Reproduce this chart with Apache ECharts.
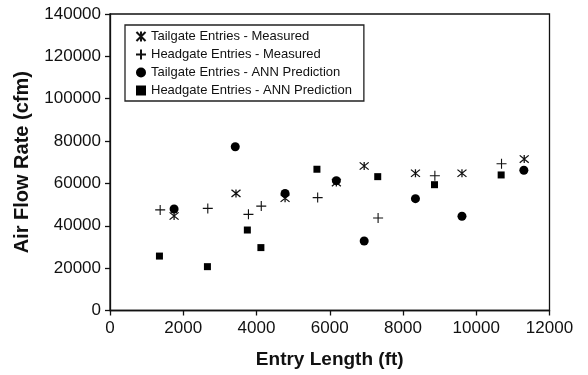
<!DOCTYPE html>
<html>
<head>
<meta charset="utf-8">
<script src="https://cdn.jsdelivr.net/npm/echarts@6/dist/echarts.min.js"></script>
<style>html,body{margin:0;padding:0;background:#fff}#c{width:588px;height:375px}</style>
</head>
<body>
<div id="c"></div>
<script>
const seriesNames = ['Tailgate Entries - Measured','Headgate Entries - Measured','Tailgate Entries - ANN Prediction','Headgate Entries - ANN Prediction'];
const xTicks = [0,2000,4000,6000,8000,10000,12000];
const yTicks = [0,20000,40000,60000,80000,100000,120000,140000];

const tailMeasX = [1750,3440,4780,6180,6940,8340,9610,11310];
const tailMeasY = [44600,55300,53000,60400,68200,64800,64800,71500];

const headMeasX = [1370,2670,3780,4130,5670,7320,8870,10690];
const headMeasY = [47500,48200,45400,49300,53300,43700,63600,69300];

const tailAnnX = [1750,3420,4780,6180,6940,8340,9610,11300];
const tailAnnY = [47900,77300,55300,61300,32800,52800,44500,66200];

const headAnnX = [1350,2660,3750,4120,5650,7310,8860,10680];
const headAnnY = [25700,20700,38000,29700,66700,63200,59400,64000];

const zip = (xs, ys) => xs.map((x, i) => [x, ys[i]]);

const asterisk = 'path://M0,0L10,10M10,0L0,10M5,-0.5L5,10.5';
const plus = 'path://M5,0L5,10M0,5L10,5';

const font = 'Liberation Sans, Arial, Helvetica, sans-serif';
const chart = echarts.init(document.getElementById('c'), null, {renderer: 'canvas'});
chart.setOption({
  animation: false,
  backgroundColor: '#fff',
  grid: {left: 110, right: 38.5, top: 14, bottom: 64.5, show: true, borderColor: '#111', borderWidth: 1.3, backgroundColor: 'transparent'},
  legend: {
    orient: 'vertical', left: 125, top: 25,
    data: seriesNames,
    itemWidth: 10, itemHeight: 10, itemGap: 5, itemTextGap: 4,
    padding: [5, 12, 4, 10],
    borderColor: '#222', borderWidth: 1.3,
    textStyle: {fontFamily: font, fontSize: 13, color: '#111', lineHeight: 12}
  },
  xAxis: {
    type: 'value', min: xTicks[0], max: xTicks[xTicks.length - 1], interval: 2000,
    name: 'Entry Length (ft)', nameLocation: 'middle', nameGap: 40,
    nameTextStyle: {fontFamily: font, fontSize: 19, fontWeight: 'bold', color: '#111'},
    axisLine: {show: true, lineStyle: {color: '#111', width: 1.3}},
    axisTick: {show: true, length: 5, lineStyle: {color: '#111', width: 1.3}},
    axisLabel: {fontFamily: font, fontSize: 17, color: '#111', margin: 9, formatter: v => String(v)},
    splitLine: {show: false}
  },
  yAxis: {
    type: 'value', min: yTicks[0], max: yTicks[yTicks.length - 1], interval: 20000,
    name: 'Air Flow Rate (cfm)', nameLocation: 'middle', nameGap: 78,
    nameTextStyle: {fontFamily: font, fontSize: 20, fontWeight: 'bold', color: '#111'},
    axisLine: {show: true, lineStyle: {color: '#111', width: 1.3}},
    axisTick: {show: true, length: 5, lineStyle: {color: '#111', width: 1.3}},
    axisLabel: {fontFamily: font, fontSize: 17, color: '#111', margin: 9, formatter: v => String(v)},
    splitLine: {show: false}
  },
  series: [
    {name: seriesNames[0], type: 'scatter', data: zip(tailMeasX, tailMeasY), symbol: asterisk, symbolSize: [9, 8],
     itemStyle: {color: 'rgba(0,0,0,0)', borderColor: '#111', borderWidth: 1.2, opacity: 1}},
    {name: seriesNames[1], type: 'scatter', data: zip(headMeasX, headMeasY), symbol: plus, symbolSize: 10,
     itemStyle: {color: 'rgba(0,0,0,0)', borderColor: '#111', borderWidth: 1.1, opacity: 1}},
    {name: seriesNames[2], type: 'scatter', data: zip(tailAnnX, tailAnnY), symbol: 'circle', symbolSize: 9,
     itemStyle: {color: '#000', opacity: 1}},
    {name: seriesNames[3], type: 'scatter', data: zip(headAnnX, headAnnY), symbol: 'rect', symbolSize: 7,
     itemStyle: {color: '#000', opacity: 1}}
  ]
});
</script>
</body>
</html>
